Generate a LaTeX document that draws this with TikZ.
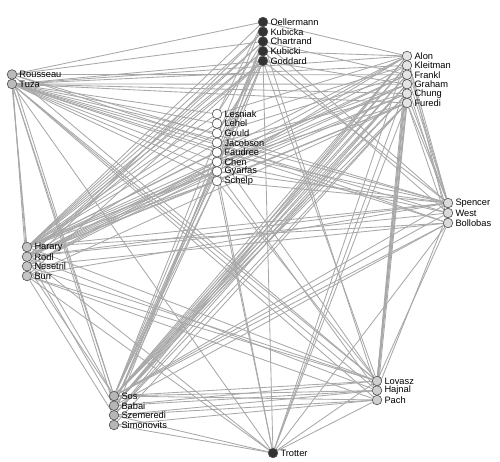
\documentclass[tikz,border=0pt]{standalone}
\usepackage{fontspec}
\setmainfont{Liberation Sans}
\usetikzlibrary{backgrounds}
\definecolor{dk}{HTML}{333333}
\definecolor{cR}{HTML}{BBBBBB}
\definecolor{cH}{HTML}{C4C4C4}
\definecolor{cA}{HTML}{E4E4E4}
\definecolor{cS}{HTML}{DADADA}
\definecolor{cB}{HTML}{B6B6B6}
\definecolor{cV}{HTML}{CFCFCF}
\definecolor{edgec}{HTML}{A8A8A8}
\tikzset{
  vtx/.style={circle,draw=black!70,line width=0.6pt,minimum size=9.6pt,inner sep=0pt,
    label={[lab]right:#1}},
  lab/.style={font=\fontsize{9.3}{10}\selectfont,inner sep=1pt,label distance=1.2pt,text=black},
  edge/.style={draw=edgec,line width=0.85pt},
}
\begin{document}
\begin{tikzpicture}[x=1pt,y=-1pt]
\useasboundingbox (0,0) rectangle (500,462);
% group O (dark)
\node[vtx=Oellermann,fill=dk] (oel) at (263,22) {};
\node[vtx=Kubicka,fill=dk] (kua) at (263,31.75) {};
\node[vtx=Chartrand,fill=dk] (cha) at (263,41.5) {};
\node[vtx=Kubicki,fill=dk] (kui) at (263,51.25) {};
\node[vtx=Goddard,fill=dk] (god) at (263,61) {};
% group A
\node[vtx=Alon,fill=cA] (alon) at (407,56) {};
\node[vtx=Kleitman,fill=cA] (klei) at (407,65.4) {};
\node[vtx=Frankl,fill=cA] (fran) at (407,74.8) {};
\node[vtx=Graham,fill=cA] (grah) at (407,84.2) {};
\node[vtx=Chung,fill=cA] (chun) at (407,93.6) {};
\node[vtx=Furedi,fill=cA] (fure) at (407,103) {};
% group L
\node[vtx=Lesniak,fill=white] (les) at (217,114) {};
\node[vtx=Lehel,fill=white] (leh) at (217,123.6) {};
\node[vtx=Gould,fill=white] (gou) at (217,133.1) {};
\node[vtx=Jacobson,fill=white] (jac) at (217,142.7) {};
\node[vtx=Faudree,fill=white] (fau) at (217,152.3) {};
\node[vtx=Chen,fill=white] (che) at (217,161.9) {};
\node[vtx=Gyarfas,fill=white] (gya) at (217,171.4) {};
\node[vtx=Schelp,fill=white] (sch) at (217,181) {};
% group R
\node[vtx=Rousseau,fill=cR] (rou) at (12,74.5) {};
\node[vtx=Tuza,fill=cR] (tuz) at (12,84) {};
% group H
\node[vtx=Harary,fill=cH] (har) at (27,247) {};
\node[vtx=Rodl,fill=cH] (rod) at (27,256.7) {};
\node[vtx=Nesetril,fill=cH] (nes) at (27,266.3) {};
\node[vtx=Burr,fill=cH] (bur) at (27,276) {};
% group S
\node[vtx=Spencer,fill=cS] (spe) at (448,203) {};
\node[vtx=West,fill=cS] (wes) at (448,213) {};
\node[vtx=Bollobas,fill=cS] (bol) at (448,223) {};
% group B
\node[vtx=Sos,fill=cB] (sos) at (114,396) {};
\node[vtx=Babai,fill=cB] (bab) at (114,405.7) {};
\node[vtx=Szemeredi,fill=cB] (sze) at (114,415.3) {};
\node[vtx=Simonovits,fill=cB] (sim) at (114,425) {};
% group V
\node[vtx=Lovasz,fill=cV] (lov) at (377,381) {};
\node[vtx=Hajnal,fill=cV] (haj) at (377,390.5) {};
\node[vtx=Pach,fill=cV] (pac) at (377,400) {};
% Trotter
\node[vtx=Trotter,fill=dk] (tro) at (273,453) {};
\begin{scope}[on background layer]
\foreach \a/\b in {
 oel/har,kua/har,cha/har,kui/har,god/har,cha/rod,god/rod,kua/nes,god/bur,kui/rod,
 oel/sos,cha/sos,god/sos,kui/bab,god/bab,cha/sze,
 oel/alon,cha/fran,god/grah,kui/alon,
 oel/les,cha/les,god/gou,kui/jac,god/sch,cha/gya,
 oel/rou,cha/rou,god/tuz,
 god/spe,kui/wes,cha/spe,
 god/lov,cha/haj,god/tro,
 alon/sos,alon/bab,klei/sos,fran/sos,fran/bab,grah/sos,grah/sze,chun/bab,fure/sos,fure/sze,grah/bab,chun/sos,alon/sze,fure/sim,klei/bab,
 alon/har,fran/har,grah/rod,chun/rod,fure/rod,klei/nes,alon/nes,fure/bur,grah/har,chun/har,fran/rod,
 alon/les,fran/gou,grah/fau,fure/che,chun/jac,klei/leh,fure/sch,alon/gya,
 alon/tuz,klei/tuz,fran/rou,grah/tuz,fure/tuz,chun/tuz,
 alon/spe,klei/spe,fran/spe,grah/wes,chun/spe,fure/spe,fure/bol,alon/bol,
 alon/lov,fran/lov,grah/lov,chun/haj,fure/lov,fure/pac,klei/haj,
 grah/tro,fure/tro,alon/tro,
 les/tuz,leh/tuz,gou/tuz,fau/tuz,che/tuz,gya/tuz,sch/tuz,jac/rou,
 les/har,gou/har,jac/rod,fau/har,che/rod,gya/har,sch/har,sch/rod,gya/nes,leh/har,
 gya/spe,sch/spe,che/wes,fau/spe,jac/bol,
 sch/sos,gya/sos,sch/bab,
 sch/lov,gya/haj,fau/lov,
 sch/tro,gya/tro,
 tuz/spe,tuz/wes,tuz/bol,rou/spe,
 tuz/lov,tuz/haj,tuz/pac,rou/lov,
 tuz/sos,tuz/bab,rou/sos,
 tuz/har,tuz/rod,rou/bur,tuz/tro,
 har/spe,rod/wes,nes/bol,bur/spe,rod/spe,har/bol,
 har/lov,rod/haj,nes/lov,bur/pac,bur/lov,
 har/sos,rod/bab,bur/sze,nes/sos,
 rod/tro,bur/tro,
 spe/sos,bol/bab,wes/sos,bol/sos,
 bol/lov,wes/haj,bol/tro,
 sos/lov,sos/haj,bab/lov,bab/haj,sze/pac,sze/haj,sim/pac,sos/pac,
 sim/tro,sze/tro,pac/tro,lov/tro}
 \draw[edge] (\a) -- (\b);
\end{scope}
\end{tikzpicture}
\end{document}
